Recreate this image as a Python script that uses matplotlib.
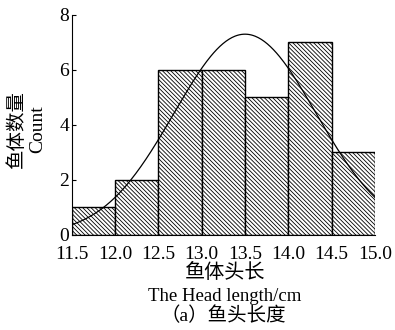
import numpy as np
import matplotlib
matplotlib.use('Agg')
import matplotlib.pyplot as plt

plt.rcParams['font.family'] = ['Liberation Serif', 'Noto Sans CJK SC']
plt.rcParams['hatch.linewidth'] = 0.6

# histogram bins (cm) and counts
bin_edges = [11.5, 12.0, 12.5, 13.0, 13.5, 14.0, 14.5, 15.0]
counts = [1, 2, 6, 6, 5, 7, 3]
# fitted normal curve
fit_mean = 13.5
fit_std = 0.82
xtick_labels = ['11.5', '12.0', '12.5', '13.0', '13.5', '14.0', '14.5', '15.0']

fig = plt.figure(figsize=(3.95, 3.3), dpi=100)
ax = fig.add_axes([0.182, 0.288, 0.767, 0.667])

lefts = bin_edges[:-1]
width = bin_edges[1] - bin_edges[0]
ax.bar(lefts, counts, width=width, align='edge', color='white',
       edgecolor='black', linewidth=1.0, hatch='\\' * 8)

n = sum(counts)
xs = np.linspace(bin_edges[0], bin_edges[-1], 300)
pdf = np.exp(-0.5 * ((xs - fit_mean) / fit_std) ** 2) / (fit_std * np.sqrt(2 * np.pi))
ax.plot(xs, n * width * pdf, color='black', linewidth=0.9)

ax.set_xlim(bin_edges[0], bin_edges[-1])
ax.set_ylim(0, 8)
ax.set_xticks(bin_edges)
ax.set_xticklabels(xtick_labels)
ax.set_yticks([0, 2, 4, 6, 8])
ax.tick_params(axis='both', direction='in', labelsize=14, length=3, pad=2)
ax.tick_params(axis='x', length=0, pad=8)
for s in ['top', 'right']:
    ax.spines[s].set_visible(False)

fig.text(0.043, 0.609, '鱼体数量', rotation=90, ha='center', va='center', fontsize=14)
fig.text(0.096, 0.609, 'Count', rotation=90, ha='center', va='center', fontsize=14)
fig.text(0.57, 0.170, '鱼体头长', ha='center', va='center', fontsize=14.5)
fig.text(0.57, 0.103, 'The Head length/cm', ha='center', va='center', fontsize=13.5)
fig.text(0.566, 0.042, '（a）鱼头长度', ha='center', va='center', fontsize=14)

plt.savefig('out.png', dpi=100)
